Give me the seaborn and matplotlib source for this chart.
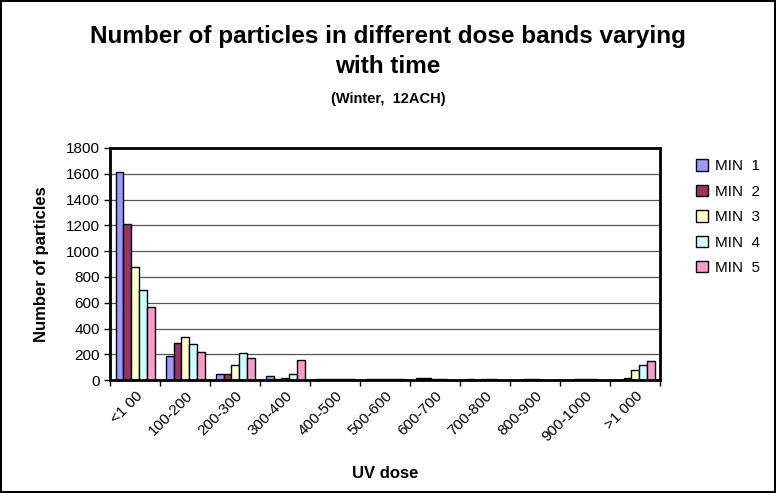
import matplotlib
matplotlib.use("Agg")
import matplotlib.pyplot as plt
import seaborn as sns
import pandas as pd
import numpy as np

dose_bands = ['<1 00', '100-200', '200-300', '300-400', '400-500', '500-600',
              '600-700', '700-800', '800-900', '900-1000', '>1 000']
series_names = ['MIN  1', 'MIN  2', 'MIN  3', 'MIN  4', 'MIN  5']
min1 = [1610, 185, 45, 30, 5, 5, 15, 5, 3, 3, 3]
min2 = [1210, 285, 45, 10, 8, 8, 15, 3, 5, 5, 20]
min3 = [880, 335, 120, 15, 8, 8, 8, 8, 8, 8, 75]
min4 = [700, 280, 210, 45, 8, 8, 5, 5, 3, 8, 115]
min5 = [565, 215, 170, 155, 8, 8, 3, 3, 3, 3, 145]
colors = ['#9999FF', '#993366', '#FFFFCC', '#CCFFFF', '#FF99CC']

rows = []
for name, vals in zip(series_names, [min1, min2, min3, min4, min5]):
    for band, v in zip(dose_bands, vals):
        rows.append({'band': band, 'series': name, 'count': v})
df = pd.DataFrame(rows)

sns.set_style('white')
plt.rcParams['font.family'] = ['Liberation Sans', 'DejaVu Sans']
plt.rcParams['text.color'] = 'black'
plt.rcParams['axes.labelcolor'] = 'black'
plt.rcParams['xtick.color'] = 'black'
plt.rcParams['ytick.color'] = 'black'

fig = plt.figure(figsize=(7.76, 4.93), dpi=100)
fig.patch.set_edgecolor('black')
fig.patch.set_linewidth(1.5)
ax = fig.add_axes([0.142, 0.229, 0.709, 0.471])

sns.barplot(data=df, x='band', y='count', hue='series', order=dose_bands,
            hue_order=series_names, palette=colors, width=0.78, ax=ax,
            edgecolor='black', linewidth=1.0, saturation=1, legend=True)

ax.set_ylim(0, 1800)
ax.set_xlim(-0.5, len(dose_bands) - 0.5)
ax.set_yticks(np.arange(0, 1801, 200))
ax.yaxis.grid(True, color='#555555', linewidth=0.9)
ax.set_axisbelow(True)
for s in ax.spines.values():
    s.set_color('black')
    s.set_linewidth(2)
ax.set_xticks(np.arange(len(dose_bands)))
ax.set_xticklabels(dose_bands, rotation=45, ha='right', rotation_mode='anchor', fontsize=11)
ax.set_xticks(np.arange(-0.5, len(dose_bands)), minor=True)
ax.tick_params(axis='x', which='major', length=0, pad=6)
ax.tick_params(axis='x', which='minor', length=4, width=1, direction='out', color='black')
ax.tick_params(axis='y', length=4, width=1, direction='out', color='black', labelsize=11)
ax.xaxis.set_tick_params(bottom=True, which='both')
ax.yaxis.set_tick_params(left=True)

ax.set_xlabel('UV dose', fontsize=12, fontweight='bold', labelpad=16)
ax.set_ylabel('Number of particles', fontsize=12, fontweight='bold', labelpad=12)

fig.text(0.5, 0.895, 'Number of particles in different dose bands varying\nwith time',
         ha='center', va='center', fontsize=17.5, fontweight='bold', linespacing=1.4)
fig.text(0.5, 0.80, '(Winter,  12ACH)', ha='center', va='center', fontsize=10.5, fontweight='bold')

leg = ax.legend(loc='upper left', bbox_to_anchor=(1.04, 1.01), frameon=False,
                fontsize=11, handlelength=0.75, handleheight=0.75, labelspacing=0.75,
                handletextpad=0.5)

fig.savefig('out.png', dpi=100)
